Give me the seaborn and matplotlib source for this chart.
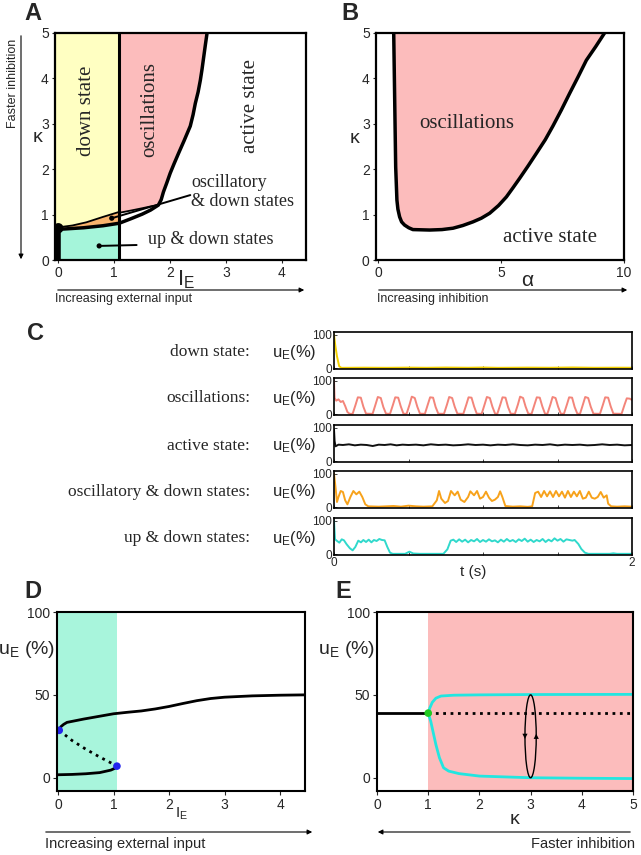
import numpy as np
import pandas as pd
import matplotlib
matplotlib.use("Agg")
import matplotlib.pyplot as plt
import matplotlib.patches as patches
import seaborn as sns

# ---------------- panel A: regimes in (I_E, kappa)
a_upper_ie = [0.0, 0.25, 0.5, 0.8, 1.09]
a_upper_k = [0.72, 0.76, 0.83, 0.95, 1.06]
a_lower_ie = [0.0, 0.45, 0.8, 1.09, 1.3, 1.5, 1.65, 1.79]
a_lower_k = [0.675, 0.71, 0.755, 0.81, 0.91, 1.01, 1.1, 1.21]
a_osc_ie = [1.79, 1.84, 1.88, 1.94, 2.0, 2.07, 2.15, 2.25, 2.36, 2.41, 2.45, 2.50,
            2.54, 2.57, 2.60, 2.63, 2.66]
a_osc_k = [1.21, 1.33, 1.50, 1.70, 1.91, 2.12, 2.35, 2.63, 2.95, 3.2, 3.45, 3.7,
           3.96, 4.2, 4.47, 4.74, 5.0]
a_pink_ie = [1.09, 1.3, 1.5, 1.65, 1.79]
a_pink_k = [1.04, 1.09, 1.14, 1.18, 1.21]
a_switch_ie = 1.09
a_cusp_k = 0.7
a_kmax = 5.0
a_ie_min = -0.06

# ---------------- panel B: oscillation region in (alpha, kappa)
b_alpha = [0.64, 0.68, 0.72, 0.77, 0.81, 0.88, 0.96, 1.08, 1.25, 1.42, 2.1, 2.6, 3.05,
           3.45, 3.86, 4.2, 4.54, 4.9, 5.22, 5.5, 5.76, 6.1, 6.44, 6.8, 7.11, 7.45,
           7.79, 8.13, 8.47, 8.85, 9.21]
b_kappa = [5.0, 3.52, 2.05, 1.32, 1.12, 0.95, 0.84, 0.77, 0.71, 0.67, 0.66, 0.67, 0.70,
           0.76, 0.84, 0.92, 1.03, 1.2, 1.39, 1.6, 1.80, 2.07, 2.35, 2.65, 2.95, 3.3,
           3.67, 4.03, 4.40, 4.7, 5.0]

# ---------------- panel C: example traces, (t [s], u_E [%])
c_labels = ["down state:", "oscillations:", "active state:",
            "oscillatory & down states:", "up & down states:"]
c_colors = ["#f2d000", "#f3857a", "#111111", "#f7a21b", "#30d9cc"]

down_trace = [(0, 100), (0.008, 70), (0.02, 35), (0.035, 5), (0.05, 0.5), (0.2, 1.0),
              (0.35, 0.6), (0.5, 1.2), (0.62, 0.7), (0.75, 1.4), (0.9, 0.8), (1.0, 1.5),
              (1.1, 0.6), (1.3, 1.2), (1.45, 0.8), (1.6, 1.6), (1.75, 0.7), (1.9, 1.0),
              (2.0, 0.8)]

osc_trace = [
    (0.000, 100), (0.004, 48), (0.015, 40), (0.030, 44), (0.045, 36), (0.060, 39),
    (0.075, 24), (0.090, 6), (0.105, 0.5),
    (0.125, 0.5), (0.145, 28), (0.160, 50), (0.180, 49), (0.197, 22), (0.215, 1),
    (0.259, 0.5), (0.279, 29), (0.294, 51), (0.314, 48), (0.331, 21), (0.349, 1),
    (0.376, 0.5), (0.396, 28), (0.411, 50), (0.431, 49), (0.448, 23), (0.466, 1),
    (0.487, 0.5), (0.507, 28), (0.522, 52), (0.542, 48), (0.559, 22), (0.577, 1),
    (0.610, 0.5), (0.630, 29), (0.645, 50), (0.665, 49), (0.682, 21), (0.700, 1),
    (0.738, 0.5), (0.758, 28), (0.773, 51), (0.793, 48), (0.810, 22), (0.828, 1),
    (0.868, 0.5), (0.888, 28), (0.903, 50), (0.923, 49), (0.940, 23), (0.958, 1),
    (0.991, 0.5), (1.011, 29), (1.026, 51), (1.046, 48), (1.063, 22), (1.081, 1),
    (1.096, 0.5), (1.116, 28), (1.131, 50), (1.151, 49), (1.168, 21), (1.186, 1),
    (1.214, 0.5), (1.234, 28), (1.249, 52), (1.269, 48), (1.286, 22), (1.304, 1),
    (1.326, 0.5), (1.346, 29), (1.361, 50), (1.381, 49), (1.398, 23), (1.416, 1),
    (1.432, 0.5), (1.452, 28), (1.467, 51), (1.487, 48), (1.504, 22), (1.522, 1),
    (1.543, 0.5), (1.563, 28), (1.578, 50), (1.598, 49), (1.615, 21), (1.633, 1),
    (1.651, 0.5), (1.671, 29), (1.686, 51), (1.706, 48), (1.723, 22), (1.741, 1),
    (1.785, 0.5), (1.805, 28), (1.820, 50), (1.840, 49), (1.857, 23), (1.875, 1),
    (1.930, 0.5), (1.950, 28), (1.965, 47), (1.985, 46), (2.000, 42),
]

active_trace = [
    (0, 95), (0.004, 60), (0.01, 44), (0.03, 49), (0.06, 48), (0.1, 50), (0.14, 47),
    (0.18, 49), (0.22, 48), (0.26, 45), (0.3, 49), (0.34, 48), (0.38, 50), (0.42, 47),
    (0.46, 49), (0.5, 48), (0.55, 49), (0.6, 47), (0.65, 50), (0.7, 48), (0.75, 49),
    (0.8, 47), (0.85, 48), (0.9, 50), (0.95, 48), (1.0, 49), (1.05, 47), (1.1, 49),
    (1.15, 48), (1.2, 50), (1.25, 48), (1.3, 47), (1.35, 49), (1.4, 48), (1.45, 50),
    (1.5, 47), (1.55, 49), (1.6, 48), (1.65, 49), (1.7, 47), (1.75, 48), (1.8, 50),
    (1.85, 48), (1.9, 49), (1.95, 47), (2.0, 48),
]

oscdown_trace = [
    (0, 100), (0.01, 60), (0.02, 15), (0.03, 30), (0.045, 48), (0.06, 45), (0.075, 20),
    (0.09, 8), (0.11, 30), (0.13, 48), (0.15, 38), (0.17, 46), (0.19, 30), (0.21, 8),
    (0.23, 2), (0.3, 1), (0.4, 3), (0.45, 1), (0.5, 4), (0.55, 2), (0.6, 1), (0.66, 2),
    (0.69, 20), (0.705, 48), (0.72, 25), (0.745, 12), (0.765, 18), (0.785, 48),
    (0.81, 35), (0.83, 46), (0.85, 22), (0.875, 15), (0.9, 30), (0.915, 47), (0.94, 35),
    (0.96, 48), (0.98, 25), (1.0, 30), (1.02, 46), (1.04, 28), (1.06, 18), (1.08, 22),
    (1.1, 30), (1.115, 47), (1.13, 30), (1.15, 3), (1.2, 1), (1.25, 2), (1.3, 0.5),
    (1.33, 2), (1.35, 42), (1.37, 46), (1.39, 30), (1.41, 48), (1.43, 32), (1.45, 47),
    (1.47, 30), (1.49, 48), (1.51, 32), (1.53, 46), (1.55, 28), (1.57, 48), (1.59, 30),
    (1.61, 46), (1.63, 32), (1.65, 48), (1.67, 25), (1.69, 28), (1.71, 46), (1.73, 28),
    (1.75, 25), (1.77, 30), (1.79, 45), (1.81, 28), (1.83, 35), (1.84, 10), (1.86, 2),
    (1.9, 1), (1.95, 2), (2.0, 1),
]

updown_trace = [
    (0.0, 100), (0.007, 44), (0.018, 40), (0.036, 34), (0.052, 44), (0.067, 41),
    (0.085, 29), (0.107, 17), (0.125, 11), (0.143, 21), (0.163, 40), (0.181, 35),
    (0.197, 42), (0.215, 36), (0.233, 43), (0.251, 35), (0.268, 42), (0.286, 39),
    (0.304, 45), (0.322, 42), (0.34, 41), (0.358, 21), (0.376, 4), (0.394, 0.5),
    (0.477, 0.5), (0.506, 7), (0.532, 1.5), (0.577, 0.5), (0.734, 0.5), (0.761, 14),
    (0.783, 40), (0.801, 43), (0.82, 36), (0.84, 44), (0.86, 37), (0.88, 43), (0.9, 35),
    (0.92, 42), (0.94, 38), (0.96, 45), (0.98, 36), (1.0, 42), (1.02, 37), (1.04, 44),
    (1.06, 38), (1.08, 41), (1.1, 35), (1.12, 43), (1.14, 37), (1.16, 45), (1.18, 38),
    (1.2, 42), (1.22, 36), (1.24, 44), (1.26, 39), (1.28, 46), (1.3, 37), (1.32, 43),
    (1.34, 36), (1.36, 42), (1.38, 38), (1.4, 45), (1.42, 36), (1.44, 43), (1.46, 38),
    (1.48, 47), (1.5, 40), (1.52, 45), (1.54, 37), (1.56, 44), (1.58, 42), (1.6, 40),
    (1.615, 42), (1.64, 30), (1.66, 15), (1.684, 4), (1.707, 0.5), (1.85, 0.5),
    (1.875, 2), (1.9, 0.5), (2.0, 0.5),
]
c_traces = [down_trace, osc_trace, active_trace, oscdown_trace, updown_trace]

# ---------------- panel D: bifurcation in I_E
d_up_ie = [0.02, 0.05, 0.1, 0.16, 0.46, 1.0, 1.25, 1.5, 1.75, 2.0, 2.25, 2.5, 2.75,
           3.0, 3.5, 4.0, 4.45]
d_up_u = [28.6, 30.8, 32.2, 33.4, 35.4, 38.6, 39.5, 40.3, 41.5, 43.0, 44.8, 46.5,
          47.8, 48.6, 49.4, 49.8, 50.0]
d_mid_ie = [0.02, 0.25, 0.5, 0.75, 0.95, 1.06]
d_mid_u = [28.6, 22.5, 17.2, 12.5, 9.0, 7.0]
d_low_ie = [0.0, 0.25, 0.5, 0.75, 0.95, 1.03, 1.06]
d_low_u = [1.8, 2.0, 2.4, 3.1, 4.6, 5.8, 7.0]
d_fold_ie = [0.02, 1.06]
d_fold_u = [28.6, 7.0]
d_bistable_ie = 1.07
d_ie_min = -0.02

# ---------------- panel E: bifurcation in kappa
e_fix_k = [0.0, 1.0]
e_fix_u = [39.0, 39.0]
e_unst_k = [1.0, 5.0]
e_unst_u = [39.0, 39.0]
e_max_k = [1.0, 1.03, 1.08, 1.15, 1.25, 1.5, 2.0, 3.0, 5.0]
e_max_u = [39.0, 42.0, 45.5, 48.0, 49.3, 49.8, 50.0, 50.2, 50.3]
e_min_k = [1.0, 1.05, 1.1, 1.15, 1.22, 1.3, 1.4, 1.6, 2.0, 3.0, 4.0, 5.0]
e_min_u = [39.0, 34.0, 27.0, 20.0, 12.0, 6.0, 4.0, 2.5, 1.0, 0.0, -0.3, -0.5]
e_hopf_k = 1.0
e_cycle_k = 3.0
e_cycle_low = 0.0
e_cycle_high = 50.0

# ---------------- styling
sns.set_style("ticks")
plt.rcParams["font.family"] = ["Liberation Sans", "DejaVu Sans"]
plt.rcParams["mathtext.fontset"] = "custom"
plt.rcParams["mathtext.rm"] = "Liberation Sans"
plt.rcParams["mathtext.it"] = "Liberation Sans:italic"
SERIF = ["Liberation Serif", "DejaVu Serif"]

W, H = 641, 855
fig = plt.figure(figsize=(W / 100, H / 100), dpi=100)


def box(l, t, r, b):
    return [l / W, 1 - b / H, (r - l) / W, (b - t) / H]


def ptext(x, y, s, **kw):
    fig.text(x / W, 1 - y / H, s, **kw)


def parrow(x0, y0, x1, y1):
    fig.add_artist(patches.FancyArrowPatch((x0 / W, 1 - y0 / H), (x1 / W, 1 - y1 / H),
                                           transform=fig.transFigure, arrowstyle="-|>",
                                           mutation_scale=7, lw=0.8, color="k"))


def frame(ax, lw=1.5):
    for s in ax.spines.values():
        s.set_visible(True)
        s.set_linewidth(lw)
        s.set_color("k")
        s.set_zorder(10)


def line(ax, x, y, **kw):
    sns.lineplot(x=list(x), y=list(y), ax=ax, sort=False, estimator=None, legend=False, **kw)


# ================= A
axA = fig.add_axes(box(55, 33, 306, 260))
n4 = 4
axA.fill([a_ie_min] + a_lower_ie[:n4] + [a_switch_ie, a_ie_min],
         [a_lower_k[0]] + a_lower_k[:n4] + [0, 0], color="#a5f5da", lw=0)
axA.fill(a_lower_ie[:n4] + a_upper_ie[::-1], a_lower_k[:n4] + a_upper_k[::-1], color="#f9b36c", lw=0)
axA.fill([a_ie_min] + a_upper_ie + [a_switch_ie, a_ie_min],
         [a_upper_k[0]] + a_upper_k + [a_kmax, a_kmax], color="#ffffc2", lw=0)
axA.fill(a_pink_ie + a_osc_ie + [a_switch_ie], a_pink_k + a_osc_k + [a_kmax], color="#fcbcbc", lw=0)
line(axA, a_upper_ie, a_upper_k, color="k", linewidth=1.3)
line(axA, a_pink_ie, a_pink_k, color="k", linewidth=1.3)
line(axA, a_lower_ie + a_osc_ie[1:], a_lower_k + a_osc_k[1:], color="k", linewidth=2.5)
line(axA, [a_switch_ie, a_switch_ie], [0, a_kmax], color="k", linewidth=2.2)
line(axA, [0, 0], [0, a_cusp_k], color="k", linewidth=4)
sns.scatterplot(x=[0], y=[a_cusp_k], ax=axA, color="k", s=55, edgecolor="none", zorder=6)
# annotation pointers
line(axA, [0.955, 2.36], [0.92, 1.43], color="k", linewidth=1.4)
line(axA, [0.73, 1.40], [0.31, 0.33], color="k", linewidth=1.4)
sns.scatterplot(x=[0.955, 0.73], y=[0.92, 0.31], ax=axA, color="k", s=14, edgecolor="none", zorder=6)
axA.text(0.5, 3.28, "down state", rotation=90, ha="center", va="center", fontsize=15, family=SERIF)
axA.text(1.64, 3.32, "oscillations", rotation=90, ha="center", va="center", fontsize=15, family=SERIF)
axA.text(3.43, 3.39, "active state", rotation=90, ha="center", va="center", fontsize=15, family=SERIF)
axA.text(2.38, 1.5, "oscillatory\n& down states", ha="left", va="center", fontsize=13,
         family=SERIF, linespacing=1.15)
axA.text(1.61, 0.45, "up & down states", ha="left", va="center", fontsize=13, family=SERIF)
axA.set_xlim(a_ie_min, 4.43)
axA.set_ylim(0, 5)
axA.set_xticks([0, 1, 2, 3, 4])
axA.set_yticks([0, 1, 2, 3, 4, 5])
axA.tick_params(labelsize=10, length=2.5, width=0.8, pad=2)
axA.set_xlabel("")
axA.set_ylabel("")
frame(axA, 1.6)
ptext(38, 137, "κ", fontsize=14, ha="center", va="center")
ptext(186, 280, r"I$_\mathrm{E}$", fontsize=16, ha="center", va="center")
ptext(13, 83, "Faster inhibition", rotation=90, fontsize=9, ha="center", va="center")
parrow(21, 33, 21, 262)
parrow(55, 290, 307, 290)
ptext(55, 299, "Increasing external input", fontsize=9, ha="left", va="center")

# ================= B
axB = fig.add_axes(box(376, 33, 624, 260))
axB.fill(b_alpha, b_kappa, color="#fcbcbc", lw=0)
line(axB, b_alpha, b_kappa, color="k", linewidth=2.5)
axB.text(3.6, 3.0, "oscillations", ha="center", va="center", fontsize=15, family=SERIF)
axB.text(7.0, 0.5, "active state", ha="center", va="center", fontsize=15, family=SERIF)
axB.set_xlim(-0.08, 10)
axB.set_ylim(0, 5)
axB.set_xticks([0, 5, 10])
axB.set_yticks([0, 1, 2, 3, 4, 5])
axB.tick_params(labelsize=10, length=2.5, width=0.8, pad=2)
axB.set_xlabel("")
axB.set_ylabel("")
frame(axB, 1.6)
ptext(355, 138, "κ", fontsize=14, ha="center", va="center")
ptext(527, 280, "α", fontsize=15, ha="center", va="center")
parrow(376, 290, 630, 290)
ptext(377, 299, "Increasing inhibition", fontsize=9, ha="left", va="center")

# ================= C
row_tops = [332, 378, 425, 471, 518]
row_h = 37
for i, (lab, col, tr) in enumerate(zip(c_labels, c_colors, c_traces)):
    top = row_tops[i]
    ax = fig.add_axes(box(334, top, 632, top + row_h))
    df = pd.DataFrame(tr, columns=["t", "u"])
    line(ax, df["t"], df["u"], color=col, linewidth=1.4)
    ax.set_xlim(0, 2)
    ax.set_ylim(-3, 108)
    ax.set_yticks([0, 100])
    ax.set_xticks([0, 0.5, 1, 1.5, 2])
    if i == len(c_labels) - 1:
        ax.set_xticklabels(["0", "", "", "", "2"])
    else:
        ax.set_xticklabels([])
    ax.tick_params(axis="both", labelsize=8.5, length=2, width=0.6, pad=1.5, direction="in")
    ax.set_xlabel("")
    ax.set_ylabel("")
    frame(ax, 1.2)
    yc = top + row_h / 2 + 2
    ptext(250, yc, lab, fontsize=12.5, family=SERIF, ha="right", va="center")
    ptext(294, yc, r"u$_\mathrm{E}$(%)", fontsize=12, ha="center", va="center")
ptext(473, 572, "t (s)", fontsize=11, ha="center", va="center")

# ================= D
axD = fig.add_axes(box(57, 612, 305, 791))
axD.axvspan(d_ie_min, d_bistable_ie, color="#a8f5dc", lw=0)
line(axD, d_up_ie, d_up_u, color="k", linewidth=2)
line(axD, d_low_ie, d_low_u, color="k", linewidth=2)
line(axD, d_mid_ie, d_mid_u, color="k", linewidth=2, linestyle=":")
sns.scatterplot(x=d_fold_ie, y=d_fold_u, ax=axD, color="#2323ee", s=30, edgecolor="none", zorder=6)
axD.set_xlim(d_ie_min, 4.45)
axD.set_ylim(-8, 100)
axD.set_xticks([0, 1, 2, 3, 4])
axD.set_yticks([0, 50, 100])
axD.tick_params(labelsize=10, length=3, width=0.8, pad=2)
axD.set_xlabel("")
axD.set_ylabel("")
frame(axD, 1.5)
ptext(27, 650, r"u$_\mathrm{E}$ (%)", fontsize=14, ha="center", va="center")
ptext(182, 814, r"I$_\mathrm{E}$", fontsize=11, ha="center", va="center")
parrow(43, 832, 315, 832)
ptext(45, 844, "Increasing external input", fontsize=10.5, ha="left", va="center")

# ================= E
axE = fig.add_axes(box(377, 612, 633, 791))
axE.axvspan(e_hopf_k, 5, color="#fcbcbc", lw=0)
line(axE, e_fix_k, e_fix_u, color="k", linewidth=2)
line(axE, e_unst_k, e_unst_u, color="k", linewidth=2, linestyle=":")
line(axE, e_max_k, e_max_u, color="#22e6e0", linewidth=2)
line(axE, e_min_k, e_min_u, color="#22e6e0", linewidth=2)
sns.scatterplot(x=[e_hopf_k], y=[e_fix_u[-1]], ax=axE, color="#22cc22", s=30, edgecolor="none", zorder=6)
axE.add_patch(patches.Ellipse((e_cycle_k, (e_cycle_low + e_cycle_high) / 2), 0.22,
                              e_cycle_high - e_cycle_low, fill=False, ec="k", lw=1, zorder=5))
sns.scatterplot(x=[e_cycle_k - 0.11], y=[(e_cycle_low + e_cycle_high) / 2], ax=axE,
                marker="v", color="k", s=14, edgecolor="none", zorder=6)
sns.scatterplot(x=[e_cycle_k + 0.11], y=[(e_cycle_low + e_cycle_high) / 2], ax=axE,
                marker="^", color="k", s=14, edgecolor="none", zorder=6)
axE.set_xlim(0, 5)
axE.set_ylim(-8, 100)
axE.set_xticks([0, 1, 2, 3, 4, 5])
axE.set_yticks([0, 50, 100])
axE.tick_params(labelsize=10, length=3, width=0.8, pad=2)
axE.set_xlabel("")
axE.set_ylabel("")
frame(axE, 1.5)
ptext(347, 650, r"u$_\mathrm{E}$ (%)", fontsize=14, ha="center", va="center")
ptext(515, 819, "κ", fontsize=14, ha="center", va="center")
parrow(633, 832, 375, 832)
ptext(635, 844, "Faster inhibition", fontsize=10.5, ha="right", va="center")

# panel letters
for letter, (px, py) in zip("ABCDE", [(33, 13), (350, 13), (35, 333), (33, 592), (343, 592)]):
    ptext(px, py, letter, fontsize=17, fontweight="bold", ha="center", va="center")

fig.savefig("out.png", dpi=100)
